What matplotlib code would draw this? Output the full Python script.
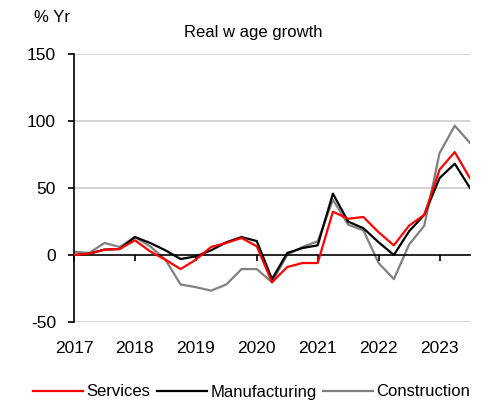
import matplotlib
matplotlib.use("Agg")
import matplotlib.pyplot as plt
from matplotlib.ticker import FixedLocator

plt.rcParams['font.family'] = ['Liberation Sans', 'DejaVu Sans']

# Quarterly observations, 2017Q1 .. 2023Q3
quarters = [2017 + 0.25 * i for i in range(27)]

services = [0, 1, 4, 4.5, 11, 2.7, -3.5, -10.5, -3.5, 6, 9, 12.7, 6.5, -20.4,
            -9, -6, -6, 32.3, 27, 28.4, 17, 7.2, 21.9, 30, 63.7, 76.8, 57.2]
manufacturing = [0, 1, 4, 4.5, 13.4, 9, 3.5, -3, -1, 3.5, 9.5, 13.4, 10.4, -18,
                 1.5, 5.2, 7.2, 45.8, 24.9, 20, 9.5, 0, 17.7, 30, 57.4, 68.1, 50]
construction = [2.5, 1.5, 9, 6, 13.4, 6.5, -3.5, -22, -24, -26.6, -22, -10.5, -10.5, -20.4,
                0.2, 6, 10.2, 41.3, 22.6, 18.4, -6, -18, 7.7, 21.9, 76, 96.5, 83.6]

year_ticks = [2017, 2018, 2019, 2020, 2021, 2022, 2023]
y_ticks = [-50, 0, 50, 100, 150]

fig = plt.figure(figsize=(4.9, 4.01), dpi=100)
ax = fig.add_axes([74 / 490, 1 - 322 / 401, (470 - 74) / 490, (322 - 54) / 401])

for yv in [-50, 50, 100, 150]:
    ax.axhline(yv, color='#cccccc', lw=1.2, zorder=0)

ax.plot(quarters, services, color='#ff0000', lw=1.6, label='Services', zorder=3)
ax.plot(quarters, manufacturing, color='#000000', lw=1.6, label='Manufacturing', zorder=2)
ax.plot(quarters, construction, color='#808080', lw=1.6, label='Construction', zorder=1)

ax.set_xlim(2017, 2023.5)
ax.set_ylim(-50, 150)

for side in ['top', 'right']:
    ax.spines[side].set_visible(False)
ax.spines['left'].set_color('black')
ax.spines['left'].set_linewidth(1.2)
ax.spines['bottom'].set_position(('data', 0))
ax.spines['bottom'].set_linewidth(1.2)

ax.yaxis.set_major_locator(FixedLocator(y_ticks))
ax.set_yticklabels([str(v) for v in y_ticks])
ax.xaxis.set_major_locator(FixedLocator(year_ticks))
ax.set_xticklabels([str(v) for v in year_ticks])

ax.tick_params(axis='y', direction='out', length=4, width=1.2, labelsize=12.5, pad=9)
ax.tick_params(axis='x', direction='out', length=4, width=1.2, labelsize=12.5, pad=58)

fig.text(253 / 490, 1 - 32 / 401, 'Real w age growth', ha='center', va='center', fontsize=12)
fig.text(52 / 490, 1 - 18 / 401, '% Yr', ha='center', va='center', fontsize=12)

fig.legend(loc='center left', bbox_to_anchor=(33 / 490, 1 - 392 / 401), ncol=3,
           frameon=False, fontsize=12, handlelength=3.0, handletextpad=0.2,
           columnspacing=0.4, borderpad=0, borderaxespad=0)

fig.savefig('out.png', dpi=100)
